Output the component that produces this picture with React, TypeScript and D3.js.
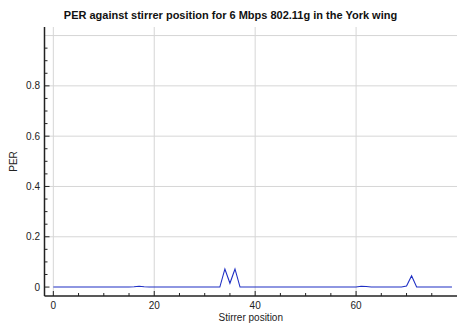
import React from "react";
import * as d3 from "d3";

const positions: number[] = d3.range(0, 80);
const perValues: number[] = [
  0, 0, 0, 0, 0, 0, 0, 0, 0, 0,
  0, 0, 0, 0, 0, 0, 0.001, 0.003, 0.001, 0,
  0, 0, 0, 0, 0, 0, 0, 0, 0, 0,
  0, 0, 0, 0, 0.072, 0.015, 0.072, 0, 0, 0,
  0, 0, 0, 0, 0, 0, 0, 0, 0, 0,
  0, 0, 0, 0, 0, 0, 0, 0, 0, 0,
  0, 0.003, 0.002, 0, 0, 0, 0, 0, 0, 0,
  0.004, 0.045, 0, 0, 0, 0, 0, 0, 0, 0,
];
const xMajorTicks: number[] = [0, 20, 40, 60];
const yMajorTicks: number[] = [0, 0.2, 0.4, 0.6, 0.8];
const yGridTicks: number[] = [0.2, 0.4, 0.6, 0.8, 1.0];
const yTickLabels: string[] = ["0", "0.2", "0.4", "0.6", "0.8"];
const titleText = "PER against stirrer position for 6 Mbps 802.11g in the York wing";
const xLabel = "Stirrer position";
const yLabel = "PER";

export default function App() {
  const W = 457, H = 324;
  const left = 44.5, right = 457, top = 27, bottom = 296;
  const x = d3.scaleLinear().domain([-1.75, 80]).range([left, right]);
  const y = d3.scaleLinear().domain([-0.0355, 1.034]).range([bottom, top]);
  const line = d3.line<number>().x((_, i) => x(positions[i])).y((d) => y(d));
  const xMinor = d3.range(0, 80, 5).filter((v) => v % 20 !== 0);
  const yMinor = d3.range(0, 21).map((i) => i * 0.05).filter((v) => Math.abs(v * 5 - Math.round(v * 5)) > 1e-6);
  const font = "'Liberation Sans', Arial, Helvetica, sans-serif";
  return (
    <svg width={W} height={H} style={{ position: "absolute", left: 0, top: 0 }} fontFamily={font}>
      <rect x={0} y={0} width={W} height={H} fill="#fff" />
      <text x={230.5} y={19} textAnchor="middle" fontWeight="bold" fontSize={11} fill="#111">{titleText}</text>
      {xMajorTicks.map((v) => (
        <line key={"gx" + v} x1={x(v)} x2={x(v)} y1={top} y2={bottom} stroke="#d6d6d6" strokeWidth={1} />
      ))}
      {yGridTicks.map((v) => (
        <line key={"gy" + v} x1={left} x2={right} y1={y(v)} y2={y(v)} stroke="#d6d6d6" strokeWidth={1} />
      ))}
      <path d={line(perValues) || ""} fill="none" stroke="#1f2fc4" strokeWidth={1.1} />
      <line x1={left} x2={left} y1={top} y2={bottom} stroke="#222" strokeWidth={1.5} />
      <line x1={left} x2={right} y1={bottom} y2={bottom} stroke="#222" strokeWidth={1.5} />
      {xMajorTicks.map((v) => (
        <g key={"xt" + v}>
          <line x1={x(v)} x2={x(v)} y1={bottom} y2={bottom - 5} stroke="#222" strokeWidth={1} />
          <text x={x(v)} y={309} textAnchor="middle" fontSize={10} fill="#222">{v}</text>
        </g>
      ))}
      {xMinor.map((v) => (
        <line key={"xm" + v} x1={x(v)} x2={x(v)} y1={bottom} y2={bottom - 3} stroke="#222" strokeWidth={1} />
      ))}
      {yMajorTicks.map((v, i) => (
        <g key={"yt" + v}>
          <line x1={left} x2={left + 5} y1={y(v)} y2={y(v)} stroke="#222" strokeWidth={1} />
          <text x={40} y={y(v) + 3.5} textAnchor="end" fontSize={10} fill="#222">{yTickLabels[i]}</text>
        </g>
      ))}
      {yMinor.map((v) => (
        <line key={"ym" + v} x1={left} x2={left + 3} y1={y(v)} y2={y(v)} stroke="#222" strokeWidth={1} />
      ))}
      <text x={(left + right) / 2} y={321} textAnchor="middle" fontSize={10} fill="#222">{xLabel}</text>
      <text transform={`translate(17,${(top + bottom) / 2}) rotate(-90)`} textAnchor="middle" fontSize={10} fill="#222">{yLabel}</text>
    </svg>
  );
}
